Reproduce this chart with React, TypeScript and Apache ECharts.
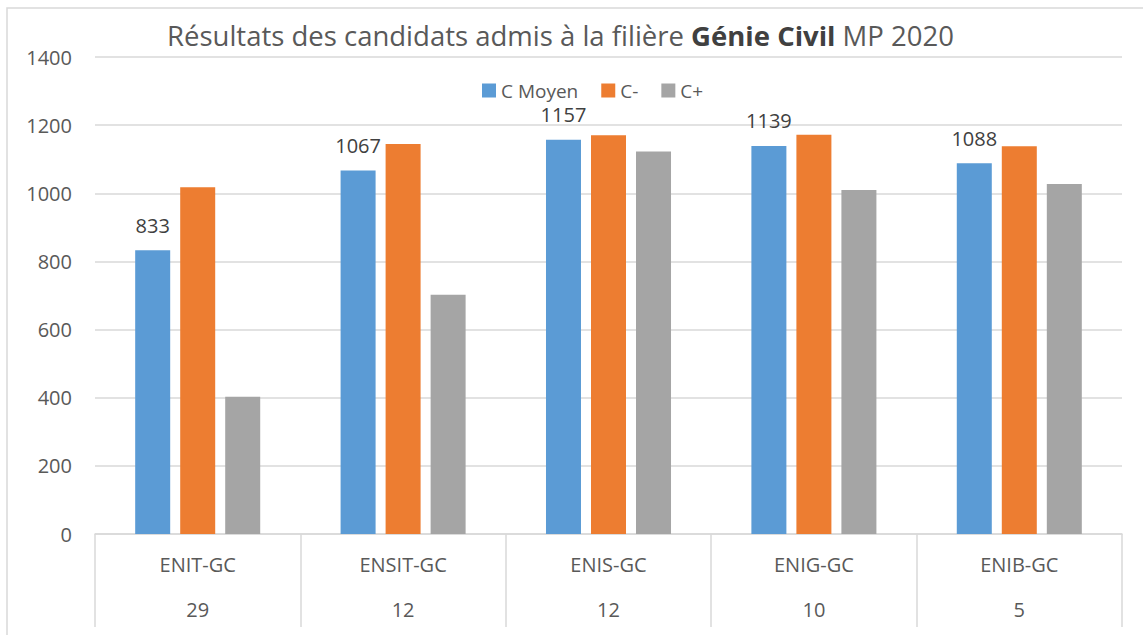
import React, { useEffect, useRef } from "react";
import * as echarts from "echarts";

const categories = ["ENIT-GC", "ENSIT-GC", "ENIS-GC", "ENIG-GC", "ENIB-GC"];
const counts = ["29", "12", "12", "10", "5"];
const cMoyen = [833, 1067, 1157, 1139, 1088];
const cMinus = [1018, 1145, 1170, 1172, 1138];
const cPlus = [403, 702, 1123, 1010, 1027];
const seriesNames = ["C Moyen", "C-", "C+"];
const colors = ["#5B9BD5", "#ED7D31", "#A5A5A5"];

const FONT = "Open Sans";

export default function App() {
  const ref = useRef<HTMLDivElement>(null);
  useEffect(() => {
    if (!ref.current) return;
    const chart = echarts.init(ref.current, null, { renderer: "svg" });
    const barBase = {
      type: "bar" as const,
      barWidth: 35,
      barGap: "28.6%",
    };
    chart.setOption({
      animation: false,
      backgroundColor: "#ffffff",
      textStyle: { fontFamily: FONT },
      title: {
        left: 162,
        top: 16,
        text: "{n|Résultats des candidats admis à la filière }{b|Génie Civil}{n| MP 2020}",
        textStyle: {
          fontWeight: "normal",
          rich: {
            n: { fontFamily: FONT, fontSize: 27.5, color: "#595959", fontWeight: "normal" },
            b: { fontFamily: FONT, fontSize: 27.5, color: "#404040", fontWeight: "bold" },
          },
        },
      },
      graphic: [
        {
          type: "rect",
          shape: { x: 7, y: 8, width: 1160, height: 660 },
          style: { fill: "none", stroke: "#d9d9d9", lineWidth: 1.5 },
          silent: true,
        },
      ],
      legend: {
        top: 76,
        left: 477,
        itemWidth: 14,
        itemHeight: 14,
        itemGap: 23,
        icon: "rect",
        textStyle: { fontFamily: FONT, fontSize: 19, color: "#595959" },
        data: seriesNames,
      },
      grid: { left: 95, right: 21, top: 57, bottom: 101, containLabel: false },
      xAxis: {
        type: "category",
        data: categories,
        axisLine: { lineStyle: { color: "#d9d9d9", width: 1.5 } },
        axisTick: { show: true, length: 93, lineStyle: { color: "#d9d9d9", width: 1.5 } },
        axisLabel: {
          margin: 8,
          interval: 0,
          formatter: (v: string, i: number) => `{a|${v}}\n{b|${counts[i]}}`,
          rich: {
            a: { fontFamily: FONT, fontSize: 20, color: "#595959", lineHeight: 45 },
            b: { fontFamily: FONT, fontSize: 20, color: "#595959", lineHeight: 45 },
          },
        },
      },
      yAxis: {
        type: "value",
        min: 0,
        max: 1400,
        interval: 200,
        axisLine: { show: false },
        axisTick: { show: false },
        axisLabel: {
          margin: 23,
          fontFamily: FONT,
          fontSize: 20,
          color: "#595959",
          formatter: (v: number) => String(v),
        },
        splitLine: { lineStyle: { color: "#d9d9d9", width: 1.5 } },
      },
      series: [
        {
          ...barBase,
          name: seriesNames[0],
          data: cMoyen,
          itemStyle: { color: colors[0] },
          label: {
            show: true,
            position: "top",
            distance: 15,
            fontFamily: FONT,
            fontSize: 20,
            color: "#404040",
          },
        },
        { ...barBase, name: seriesNames[1], data: cMinus, itemStyle: { color: colors[1] } },
        { ...barBase, name: seriesNames[2], data: cPlus, itemStyle: { color: colors[2] } },
      ],
    });
    return () => chart.dispose();
  }, []);
  return (
    <div
      ref={ref}
      style={{ position: "fixed", left: 0, top: 0, width: 1143, height: 635 }}
    />
  );
}
